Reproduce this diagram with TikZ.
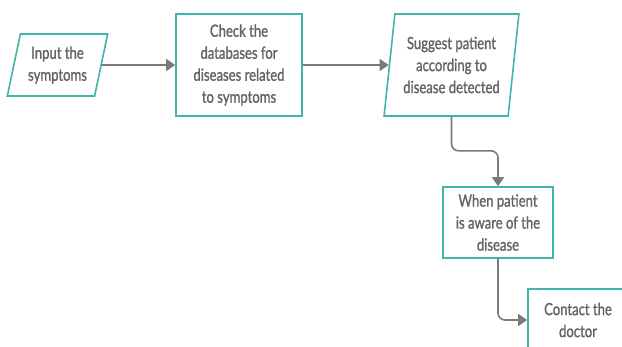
\documentclass[tikz,border=0pt]{standalone}
\usepackage{fontspec}
\setmainfont{Lato}[FakeStretch=0.78,FakeBold=1.2]
\usetikzlibrary{arrows.meta,shapes.geometric}
\definecolor{boxteal}{RGB}{62,182,171}
\definecolor{textgray}{RGB}{100,100,100}
\definecolor{linegray}{RGB}{122,122,122}
\begin{document}
\begin{tikzpicture}[x=1pt,y=-1pt,
    stepbox/.style={draw=boxteal,line width=1.6pt,fill=white,align=center,
      text=textgray,font=\fontsize{16.8}{22}\selectfont,inner sep=2pt},
    iobox/.style={stepbox,trapezium,trapezium left angle=#1,
      trapezium right angle=180-#1,trapezium stretches=true},
    flow/.style={draw=linegray,line width=1.6pt,rounded corners=7pt,
      -{Triangle[length=9pt,width=12pt]}}]
  \useasboundingbox (0,0) rectangle (622,346);
  \clip (0,0) rectangle (622,346);
  \node[iobox=75,minimum width=101pt,minimum height=62pt] (input) at (57.5,65) {Input the\\symptoms};
  \node[stepbox,minimum width=126pt,minimum height=102pt] (check) at (239,65) {Check the\\databases for\\diseases related\\to symptoms};
  \node[iobox=81,minimum width=135pt,minimum height=102pt] (suggest) at (451.5,65) {Suggest patient\\according to\\disease detected};
  \node[stepbox,minimum width=110pt,minimum height=71pt] (aware) at (498,222.5) {When patient\\is aware of the\\disease};
  \node[stepbox,minimum width=100pt,minimum height=62pt] (contact) at (578,320) {Contact the\\doctor};
  \draw[flow] (input) -- (check);
  \draw[flow] (check) -- (suggest);
  \draw[flow] (suggest.south) -- ++(0,34) -| (aware.north);
  \draw[flow] (aware.south) |- (contact.west);
\end{tikzpicture}
\end{document}
